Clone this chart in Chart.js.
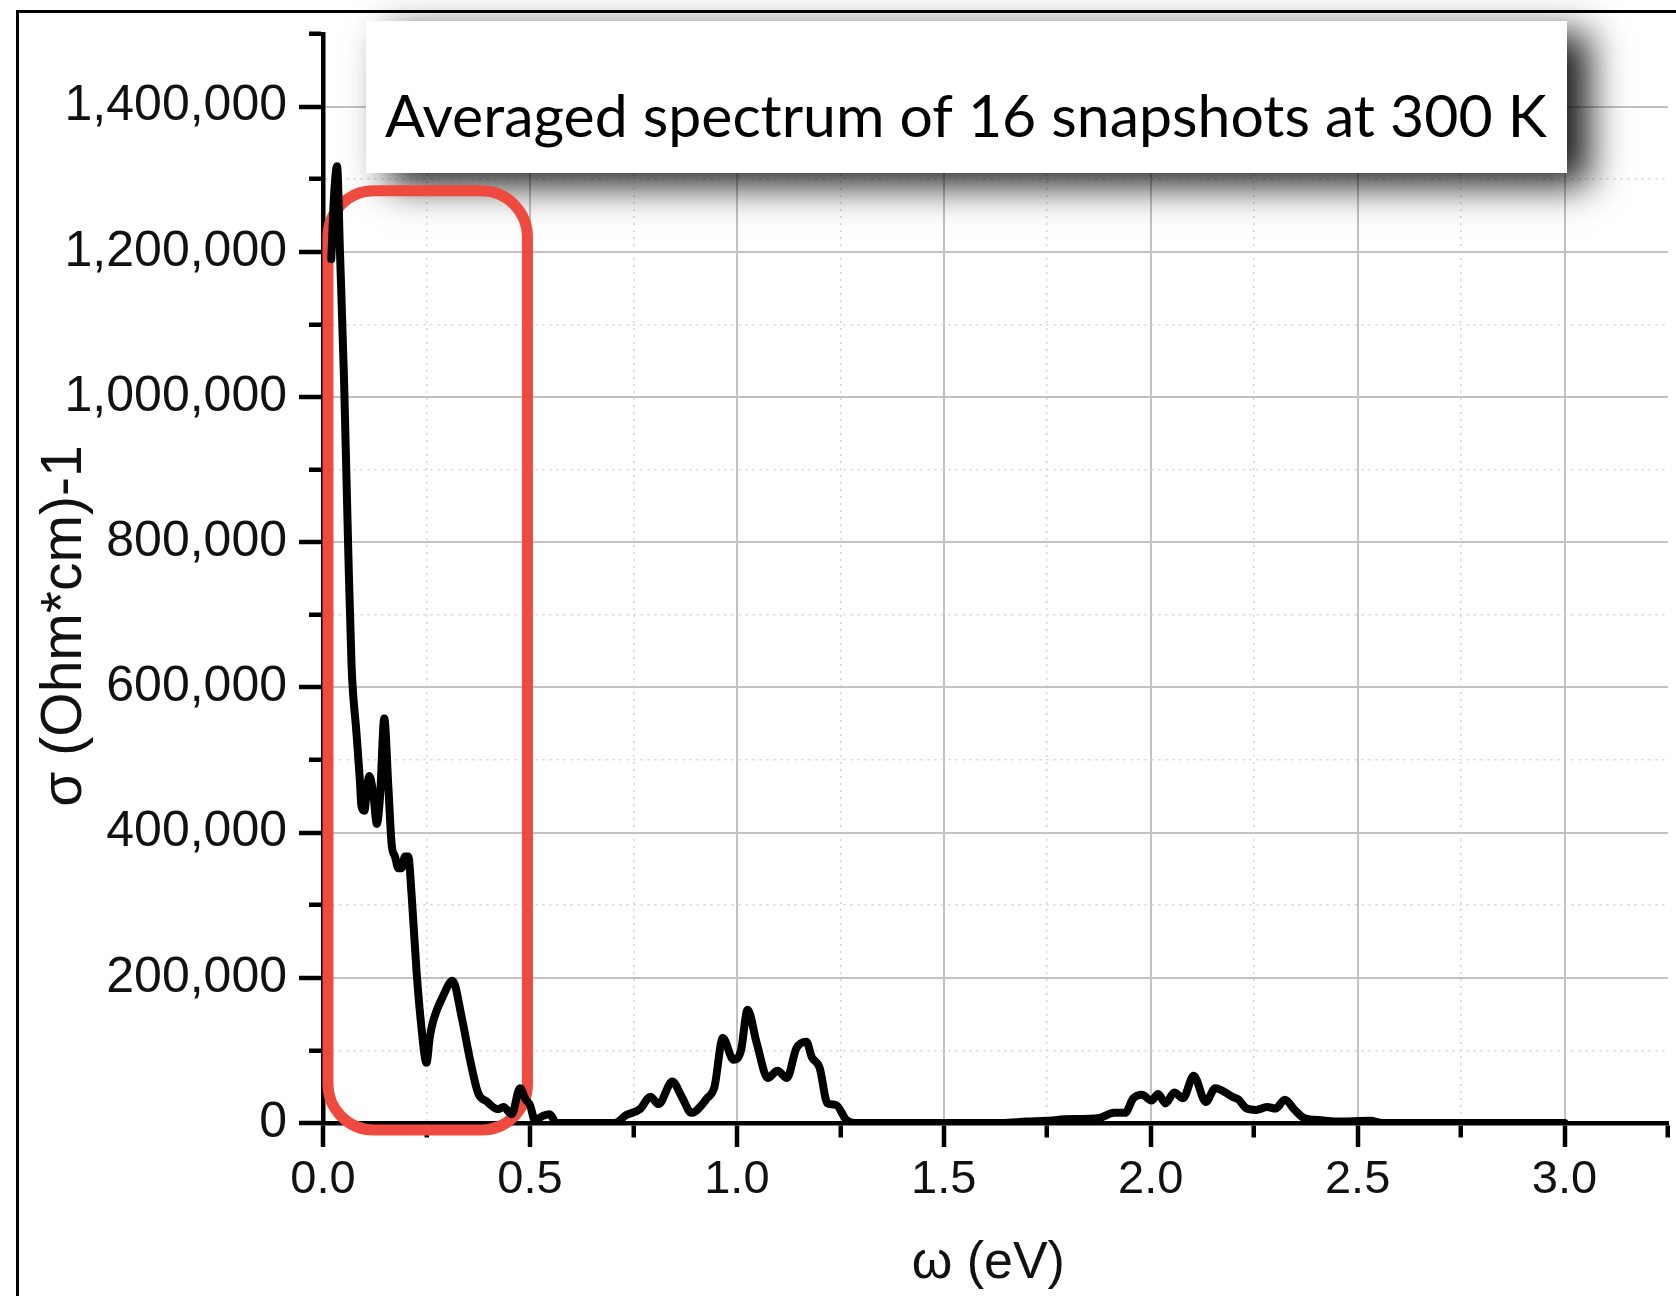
<!DOCTYPE html>
<html>
<head>
<meta charset="utf-8">
<script src="https://cdn.jsdelivr.net/npm/chart.js@4.4.1/dist/chart.umd.min.js"></script>
<style>
body { margin: 0; background: #fff; overflow: hidden; }
#frame { position: absolute; left: 16px; top: 10px; width: 1700px; height: 1320px;
  border-left: 3px solid #000; border-top: 3px solid #000; }
#wrap { position: absolute; left: 0; top: 0; width: 1676px; height: 1296px; }
</style>
</head>
<body>
<div id="frame"></div>
<div id="wrap"><canvas id="myChart"></canvas></div>
<script>
// photon energy (eV) and optical conductivity (Ohm*cm)^-1
var omega = [0.020, 0.027, 0.034, 0.041, 0.051, 0.061, 0.069, 0.081, 0.089, 0.093,
  0.100, 0.106, 0.112, 0.122, 0.130, 0.138, 0.148, 0.158, 0.166, 0.174,
  0.182, 0.190, 0.198, 0.206, 0.214, 0.226, 0.238, 0.250, 0.258, 0.266,
  0.291, 0.313, 0.335, 0.355, 0.375, 0.395, 0.423, 0.436, 0.456, 0.476,
  0.490, 0.500, 0.512, 0.532, 0.548, 0.564, 0.705, 0.733, 0.766, 0.791,
  0.811, 0.844, 0.867, 0.890, 0.928, 0.946, 0.966, 0.992, 1.010, 1.026,
  1.048, 1.075, 1.098, 1.121, 1.144, 1.168, 1.181, 1.200, 1.219, 1.239,
  1.265, 1.285, 1.640, 1.700, 1.749, 1.792, 1.876, 1.911, 1.938, 1.958,
  1.979, 2.002, 2.018, 2.036, 2.057, 2.078, 2.104, 2.133, 2.156, 2.198,
  2.213, 2.229, 2.255, 2.281, 2.302, 2.324, 2.348, 2.370, 2.406, 2.450,
  2.530, 2.560, 3.000];
var sigma = [1190000, 1280000, 1318000, 1200000, 1020000, 789000, 630000, 536000, 473000, 436000,
  430000, 460000, 478000, 451000, 412000, 451000, 557000, 462000, 383000, 367000,
  351000, 351000, 367000, 367000, 315000, 209000, 131000, 83000, 118000, 140000,
  176000, 196000, 146000, 88000, 41000, 30000, 19000, 22000, 12000, 48000,
  32000, 25000, 4000, 10000, 12000, 0, 0, 11000, 19000, 36000,
  26000, 57000, 36000, 14000, 34000, 50000, 117000, 87000, 100000, 156000,
  110000, 62000, 72000, 62000, 103000, 112000, 91000, 76000, 27000, 25000,
  4000, 0, 0, 2000, 3000, 5000, 7000, 14000, 14000, 34000,
  39000, 31000, 40000, 27000, 42000, 34000, 65000, 29000, 48000, 36000,
  32000, 21000, 18000, 22000, 20000, 32000, 18000, 7000, 4000, 2000,
  3000, 0, 0];

var xMax = 3.25, xMinor = 0.25, xMajor = 0.5;
var yMax = 1500000, yMinor = 100000, yMajor = 200000;
var caption = "Averaged spectrum of 16 snapshots at 300 K";
var xTitle = "\u03c9 (eV)\u00a0";
var yTitle = "\u03c3 (Ohm*cm)-1";
// red frame round the low energy part, in data units
var boxX = [0.012, 0.494];
var boxY = [-9600, 1284000];

function isMajor(v, step) {
  return Math.abs(v / step - Math.round(v / step)) < 1e-6;
}

var overlay = {
  id: 'overlay',
  beforeDatasetsDraw: function(chart) {
    var ctx = chart.ctx;
    var xs = chart.scales.x, ys = chart.scales.y;

    ctx.save();
    ctx.shadowColor = 'rgba(0,0,0,0.9)';
    ctx.shadowBlur = 36;
    ctx.shadowOffsetX = 22;
    ctx.shadowOffsetY = 12;
    ctx.fillStyle = '#fff';
    ctx.fillRect(366, 21, 1201, 152);
    ctx.restore();

    ctx.save();
    var size = 60;
    ctx.font = size + 'px Lato';
    size = size * 1162 / ctx.measureText(caption).width;
    ctx.font = size + 'px Lato';
    ctx.fillStyle = '#000';
    ctx.textBaseline = 'alphabetic';
    ctx.fillText(caption, 385, 137);

    var l = xs.getPixelForValue(boxX[0]), r = xs.getPixelForValue(boxX[1]);
    var t = ys.getPixelForValue(boxY[1]), b = ys.getPixelForValue(boxY[0]);
    ctx.beginPath();
    ctx.roundRect(l, t, r - l, b - t, 46);
    ctx.lineWidth = 11;
    ctx.strokeStyle = '#ef4a40';
    ctx.stroke();
    ctx.restore();
  }
};

var fontFamily = "'Liberation Sans', Arial, sans-serif";

new Chart("myChart", {
  type: "line",
  data: {
    datasets: [{
      data: omega.map(function(x, i) { return {x: x, y: sigma[i]}; }),
      borderColor: "#000",
      borderWidth: 8,
      pointRadius: 0,
      fill: false,
      cubicInterpolationMode: 'monotone',
      borderJoinStyle: 'round',
      borderCapStyle: 'round'
    }]
  },
  options: {
    responsive: true,
    maintainAspectRatio: false,
    animation: false,
    layout: {padding: {top: 34, right: 8, left: 0, bottom: 0}},
    plugins: {legend: {display: false}, tooltip: {enabled: false}},
    scales: {
      x: {
        type: 'linear',
        min: 0, max: xMax,
        afterFit: function(s) { s.height = 173; s.paddingLeft = 0; s.paddingRight = 0; },
        ticks: {
          stepSize: xMinor, autoSkip: false, maxRotation: 0, padding: 5,
          color: '#111', font: {family: fontFamily, size: 47},
          callback: function(v) { return isMajor(v, xMajor) ? v.toFixed(1) : ''; }
        },
        grid: {
          color: function(c) {
            if (!c.tick || c.tick.value >= xMax - 1e-6) return 'rgba(0,0,0,0)';
            return isMajor(c.tick.value, xMajor) ? '#c2c2c2' : '#d4d4d4';
          },
          lineWidth: function(c) { return c.tick && isMajor(c.tick.value, xMajor) ? 2 : 1.5; },
          tickLength: 24,
          tickWidth: 4.5,
          tickColor: '#000',
          tickBorderDash: function(c) { return c.tick && isMajor(c.tick.value, xMajor) ? [] : [12, 100]; }
        },
        border: {
          color: '#000', width: 4.5,
          dash: function(c) { return c.tick && !isMajor(c.tick.value, xMajor) ? [2, 5] : []; }
        },
        title: {
          display: true, text: xTitle, color: '#111',
          font: {family: fontFamily, size: 52},
          padding: {top: 0, bottom: 1}
        }
      },
      y: {
        min: 0, max: yMax,
        afterFit: function(s) { s.width = 323; s.paddingTop = 0; s.paddingBottom = 0; },
        ticks: {
          stepSize: yMinor, autoSkip: false, padding: 12,
          color: '#111', font: {family: fontFamily, size: 50},
          callback: function(v) { return isMajor(v, yMajor) ? v.toLocaleString('en-US') : ''; }
        },
        grid: {
          color: function(c) {
            if (!c.tick || c.tick.value >= yMax - 1) return 'rgba(0,0,0,0)';
            return isMajor(c.tick.value, yMajor) ? '#c2c2c2' : '#d4d4d4';
          },
          lineWidth: function(c) { return c.tick && isMajor(c.tick.value, yMajor) ? 2 : 1.5; },
          tickLength: 24,
          tickWidth: 4.5,
          tickColor: '#000',
          tickBorderDash: function(c) { return c.tick && isMajor(c.tick.value, yMajor) ? [] : [0, 10, 30, 0]; }
        },
        border: {
          color: '#000', width: 4.5,
          dash: function(c) { return c.tick && !isMajor(c.tick.value, yMajor) ? [2, 5] : []; }
        },
        title: {
          display: true,
          text: yTitle + "\u00a0\u00a0\u00a0\u00a0\u00a0\u00a0",
          color: '#111',
          font: {family: fontFamily, size: 57},
          padding: {top: 31, bottom: 0}
        }
      }
    }
  },
  plugins: [overlay]
});
</script>
</body>
</html>
